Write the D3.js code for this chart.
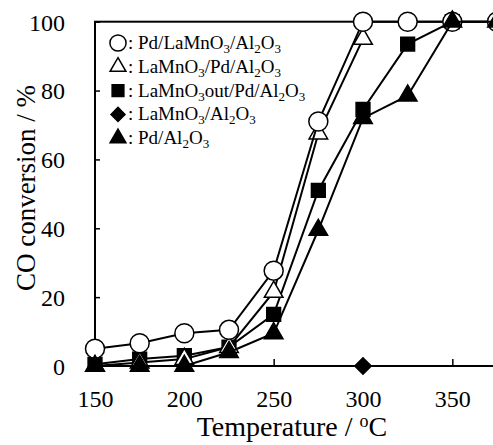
<!DOCTYPE html>
<html>
<head>
<meta charset="utf-8">
<script src="https://cdn.jsdelivr.net/npm/d3@7"></script>
<style>
  body { margin: 0; background: #fff; }
</style>
</head>
<body>
<svg id="chart" width="493" height="445"></svg>
<script>
// data
var temps = [150, 175, 200, 225, 250, 275, 300, 325, 350, 375];
var pdLaMnO3 = [5, 6.6, 9.5, 10.5, 27.7, 71, 100, 100, 100, 100];
var laMnO3Pd = [0, 1, 2, 5.5, 21.5, 67.5, 95];
var laMnO3outPd = [0.5, 2, 3, 5.5, 15, 51, 74.5, 93.5, 100];
var diamondTemps = [300];
var laMnO3 = [0];
var pdAl2O3 = [0, 0, 0, 4, 9.5, 39.5, 72, 78.5, 100, 100];

var xTicks = [150, 200, 250, 300, 350];
var yTicks = [0, 20, 40, 60, 80, 100];

var serif = "'Liberation Serif', 'Times New Roman', serif";

var svg = d3.select("#chart").style("font-family", serif);

var x = d3.scaleLinear().domain([150, 375]).range([95, 497]);
var y = d3.scaleLinear().domain([0, 100]).range([366, 21.7]);

// frame
svg.append("rect").attr("x", x(150)).attr("y", y(100))
  .attr("width", x(375) - x(150)).attr("height", y(0) - y(100))
  .attr("fill", "none").attr("stroke", "black").attr("stroke-width", 2);

// axes with inward ticks
var xAxis = svg.append("g").attr("transform", "translate(0," + y(0) + ")")
  .call(d3.axisBottom(x).tickValues(xTicks).tickSize(-7).tickPadding(24).tickFormat(d3.format("d")));
var yAxis = svg.append("g").attr("transform", "translate(" + x(150) + ",0)")
  .call(d3.axisLeft(y).tickValues(yTicks).tickSize(-5).tickPadding(30).tickFormat(d3.format("d")));
[xAxis, yAxis].forEach(function(a) {
  a.select(".domain").remove();
  a.selectAll(".tick line").attr("stroke", "black").attr("stroke-width", 1.5);
  a.selectAll(".tick text").style("font-family", serif).style("font-size", "24px").attr("fill", "black");
});
xAxis.selectAll(".tick text").attr("dy", "0.71em");
yAxis.selectAll(".tick text").attr("dy", "0.35em");

// axis titles
var xt = svg.append("text").attr("x", 292).attr("y", 436).attr("text-anchor", "middle")
  .style("font-family", serif).style("font-size", "28px");
xt.append("tspan").text("Temperature / ");
xt.append("tspan").text("o").style("font-size", "18px").attr("baseline-shift", "9px");
xt.append("tspan").text("C");

svg.append("text").attr("transform", "translate(35,188) rotate(-90)")
  .attr("text-anchor", "middle").style("font-family", serif).style("font-size", "27px").text("CO conversion / %");

var line = d3.line().x(function(d) { return x(d[0]); }).y(function(d) { return y(d[1]); });

function pairs(xs, ys) { return ys.map(function(v, i) { return [xs[i], v]; }); }

var series = [
  { vals: pairs(diamondTemps, laMnO3), shape: "diamond", fill: "black" },
  { vals: pairs(temps, laMnO3outPd), shape: "square", fill: "black" },
  { vals: pairs(temps, laMnO3Pd), shape: "triangle", fill: "white" },
  { vals: pairs(temps, pdLaMnO3), shape: "circle", fill: "white" },
  { vals: pairs(temps, pdAl2O3), shape: "triangle", fill: "black" }
];

function marker(g, shape, fill, big) {
  var k = big ? 1 : 0.85;
  if (shape === "circle") {
    g.append("circle").attr("r", 9.5 * k);
  } else if (shape === "triangle") {
    g.append("path").attr("d", d3.symbol().type(d3.symbolTriangle).size(150 * k * k)());
  } else if (shape === "square") {
    g.append("path").attr("d", d3.symbol().type(d3.symbolSquare).size(190 * k * k)());
  } else {
    g.append("path").attr("d", d3.symbol().type(d3.symbolSquare).size(135 * k * k)()).attr("transform", "rotate(45)");
  }
  g.selectAll("*").attr("fill", fill).attr("stroke", "black").attr("stroke-width", 1.5);
}

series.forEach(function(s) {
  svg.append("path").datum(s.vals).attr("d", line)
    .attr("fill", "none").attr("stroke", "black").attr("stroke-width", 2);
  s.vals.forEach(function(d) {
    var g = svg.append("g").attr("transform", "translate(" + x(d[0]) + "," + y(d[1]) + ")");
    marker(g, s.shape, s.fill, true);
  });
});

// legend
var legend = [
  { shape: "circle", fill: "white", sep: ": ", parts: [["Pd/LaMnO"], ["3", 1], ["/Al"], ["2", 1], ["O"], ["3", 1]] },
  { shape: "triangle", fill: "white", sep: ": ", parts: [["LaMnO"], ["3", 1], ["/Pd/Al"], ["2", 1], ["O"], ["3", 1]] },
  { shape: "square", fill: "black", sep: ": ", parts: [["LaMnO"], ["3", 1], ["out/Pd/Al"], ["2", 1], ["O"], ["3", 1]] },
  { shape: "diamond", fill: "black", sep: ": ", parts: [["LaMnO"], ["3", 1], ["/Al"], ["2", 1], ["O"], ["3", 1]] },
  { shape: "triangle", fill: "black", sep: " : ", parts: [["Pd/Al"], ["2", 1], ["O"], ["3", 1]] }
];

legend.forEach(function(l, i) {
  var cy = 43 + i * 23.8;
  var g = svg.append("g").attr("transform", "translate(118," + cy + ")");
  marker(g, l.shape, l.fill, false);
  var t = svg.append("text").attr("x", 128).attr("y", cy + 6)
    .style("font-family", serif).style("font-size", "19px");
  t.append("tspan").text(l.sep);
  l.parts.forEach(function(p) {
    if (p[1]) {
      t.append("tspan").text(p[0]).style("font-size", "13px").attr("baseline-shift", "-4px");
    } else {
      t.append("tspan").text(p[0]);
    }
  });
});
</script>
</body>
</html>
